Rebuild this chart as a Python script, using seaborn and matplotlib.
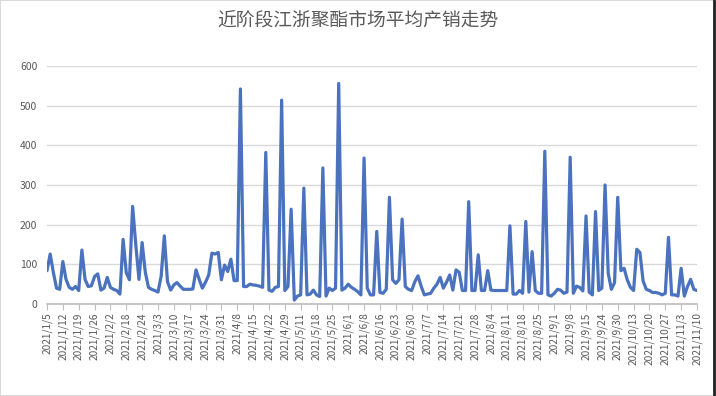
import numpy as np
import pandas as pd
import seaborn as sns
import matplotlib.pyplot as plt

# daily average production/sales ratio
values = [84, 126, 80, 40, 37, 107, 62, 42, 37, 44,
          34, 136, 62, 44, 46, 69, 76, 35, 40, 67,
          42, 37, 34, 25, 163, 79, 61, 246, 150, 62,
          155, 80, 42, 37, 34, 30, 70, 172, 56, 35,
          48, 54, 45, 37, 37, 37, 38, 86, 62, 40,
          55, 73, 128, 126, 130, 61, 98, 82, 113, 59,
          59, 542, 44, 44, 50, 48, 47, 45, 42, 382,
          35, 32, 42, 44, 514, 34, 44, 239, 10, 20,
          23, 292, 23, 25, 35, 23, 19, 343, 20, 40,
          34, 40, 556, 35, 40, 50, 42, 37, 31, 23,
          368, 40, 23, 23, 183, 29, 27, 37, 269, 61,
          52, 61, 214, 44, 37, 34, 56, 71, 45, 23,
          25, 27, 40, 50, 67, 40, 55, 73, 35, 86,
          80, 34, 34, 258, 34, 34, 124, 34, 34, 84,
          35, 34, 34, 34, 34, 34, 197, 25, 25, 34,
          27, 208, 30, 132, 34, 27, 27, 385, 23, 20,
          27, 37, 35, 27, 30, 370, 27, 45, 42, 33,
          222, 30, 23, 233, 34, 40, 300, 77, 37, 54,
          269, 84, 90, 61, 42, 34, 138, 130, 58, 37,
          34, 29, 29, 27, 23, 27, 168, 23, 23, 20,
          90, 20, 44, 62, 37, 34]

tick_labels = ["2021/1/5", "2021/1/12", "2021/1/19", "2021/1/26", "2021/2/2",
               "2021/2/18", "2021/2/24", "2021/3/3", "2021/3/10", "2021/3/17",
               "2021/3/24", "2021/3/31", "2021/4/8", "2021/4/15", "2021/4/22",
               "2021/4/29", "2021/5/11", "2021/5/18", "2021/5/25", "2021/6/1",
               "2021/6/8", "2021/6/16", "2021/6/23", "2021/6/30", "2021/7/7",
               "2021/7/14", "2021/7/21", "2021/7/28", "2021/8/4", "2021/8/11",
               "2021/8/18", "2021/8/25", "2021/9/1", "2021/9/8", "2021/9/15",
               "2021/9/24", "2021/9/30", "2021/10/13", "2021/10/20", "2021/10/27",
               "2021/11/3", "2021/11/10"]

title = "近阶段江浙聚酯市场平均产销走势"

df = pd.DataFrame({"idx": range(len(values)), "amt": values})

sns.set_theme(style="whitegrid")
plt.rcParams['font.family'] = ['Noto Sans CJK SC', 'DejaVu Sans']

fig = plt.figure(figsize=(7.16, 3.96), dpi=100)
ax = fig.add_axes([47/716, 92/396, 650/716, 238/396])
sns.lineplot(data=df, x="idx", y="amt", color="#4a72bf", linewidth=2.3, ax=ax)

ax.set_xlim(0, len(values) - 1)
ax.set_ylim(0, 600)
ax.set_yticks(range(0, 700, 100))
ax.set_xticks(range(0, len(values), 5))
ax.set_xticklabels(tick_labels, rotation=90, fontsize=7.3, color="#595959")
ax.tick_params(axis="y", labelsize=7.5, labelcolor="#595959", length=0, pad=7)
ax.tick_params(axis="x", bottom=True, length=4, color="#bfbfbf", width=0.8, pad=2)
ax.yaxis.grid(True, color="#d9d9d9", linewidth=1)
ax.xaxis.grid(False)
for s in ["top", "left", "right"]:
    ax.spines[s].set_visible(False)
ax.spines["bottom"].set_color("#bfbfbf")
ax.set_xlabel("")
ax.set_ylabel("")

fig.text(0.5, 1 - 20/396, title, ha="center", va="center", fontsize=13.5, color="#595959")
fig.patches.append(plt.Rectangle((0, 0), 1, 1, transform=fig.transFigure,
                                 fill=False, edgecolor="#d9d9d9", linewidth=1.5))
# dark edge on the right side of the screenshot
fig.add_artist(plt.Line2D([713.5/716, 713.5/716], [0, 1], transform=fig.transFigure,
                          color="#222222", linewidth=2))

fig.savefig("out.png", dpi=100)
